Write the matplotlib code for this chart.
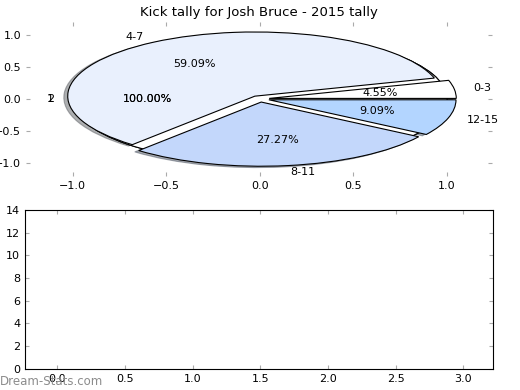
from matplotlib import pyplot as plt
import numpy as np

# kick distance buckets and counts
labels = ['0-3', '4-7', '8-11', '12-15']
counts = [1, 13, 6, 2]
colors = ['#ffffff', '#e9f0fd', '#c3d7fb', '#b3d5ff']
explode = [0.05, 0.05, 0.05, 0.05]
# leftover single slice pies drawn under the main one
extra_labels = [['1'], ['2']]
extra_counts = [[1], [1]]

title = "Kick tally for Josh Bruce - 2015 tally"
bar_ylim = (0, 14)
bar_xlim = (-0.24, 3.22)

fig = plt.figure(figsize=(5.2, 3.9), dpi=100)
ax1 = fig.add_axes([0.05, 0.549, 0.896, 0.395])
ax2 = fig.add_axes([0.048, 0.054, 0.9, 0.408])

for lab, cnt in zip(extra_labels, extra_counts):
    w, t, a = ax1.pie(cnt, labels=lab, autopct='%1.2f%%', colors=['#ffffff'],
                      wedgeprops={'linewidth': 0.8, 'edgecolor': 'k'},
                      textprops={'fontsize': 8})
w, t, a = ax1.pie(counts, labels=labels, autopct='%1.2f%%', colors=colors,
                  explode=explode,
                  shadow={'ox': -0.015, 'oy': -0.015, 'shade': 0.6},
                  wedgeprops={'linewidth': 0.8, 'edgecolor': 'k'},
                  textprops={'fontsize': 8})
ax1.set_aspect('auto')
ax1.set_frame_on(True)
for s in ax1.spines.values():
    s.set_visible(False)
ax1.set_xlim(-1.25, 1.24)
ax1.set_ylim(-1.2, 1.2)
ax1.set_xticks([-1.0, -0.5, 0.0, 0.5, 1.0])
ax1.set_yticks([-1.0, -0.5, 0.0, 0.5, 1.0])
ax1.set_title(title, fontsize=9.5, pad=4)

ax2.set_xlim(*bar_xlim)
ax2.set_ylim(*bar_ylim)
ax2.set_xticks(np.arange(0, 3.5, 0.5))
ax2.set_yticks(np.arange(0, 15, 2))

for ax in (ax1, ax2):
    ax.tick_params(direction='in', length=3, color='#aaaaaa', labelsize=8,
                   top=True, right=True, labelcolor='k')

fig.text(0.0, 0.012, 'Dream-Stats.com', color='#8c8c8c', fontsize=8.5)
plt.savefig('out.png')
